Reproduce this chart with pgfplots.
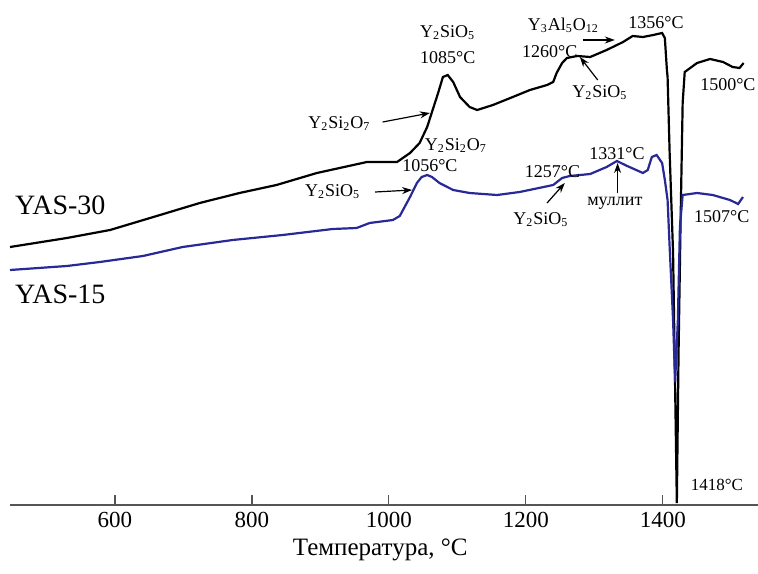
\documentclass[border=0pt]{standalone}
\usepackage{fontspec}
\setmainfont{Liberation Serif}
\usepackage{pgfplots}
\pgfplotsset{compat=1.18}
\usetikzlibrary{arrows.meta}
\definecolor{dscblue}{RGB}{40,40,150}
\definecolor{axgray}{RGB}{85,85,85}
\newcommand{\ann}{\fontsize{9}{10}\selectfont}
\begin{document}
\begin{tikzpicture}
\begin{axis}[
  scale only axis, width=374pt, height=252.5pt,
  xmin=447, xmax=1539, ymin=0, ymax=505,
  axis x line=bottom, axis y line=none,
  axis line style={axgray, line width=0.9pt, -},
  xtick={600,800,1000,1200,1400},
  tick align=inside, major tick length=5pt,
  tick style={axgray, line width=0.7pt},
  ticklabel style={font=\fontsize{11.5}{13}\selectfont},
  /pgf/number format/assume math mode=true,
  /pgf/number format/1000 sep={},
  xlabel={Температура, °C},
  xlabel style={font=\fontsize{12.5}{14}\selectfont, at={(axis description cs:0.495,0)}, anchor=center, yshift=-22.5pt},
  clip=false,
]
% YAS-30 (black)
\addplot[black, line width=1.1pt] coordinates {
(447,258) (530,267) (593,275) (666,290) (724,302) (782,312) (836,320) (895,332)
(968,343) (1012,343) (1031,352) (1045,362) (1056,378) (1064,395) (1072,412)
(1079,428) (1086,430) (1094,423) (1104,408) (1118,398) (1129,395) (1152,400)
(1181,408) (1206,415) (1231,420) (1240,423) (1245,432) (1253,442) (1260,447)
(1275,449) (1294,448) (1318,455) (1342,463) (1356,469) (1371,468) (1386,470)
(1399,472) (1403,467) (1406,435) (1407,428) (1410,352) (1415,252) (1418,118)
(1420.5,2) (1423,152) (1426,285) (1429,402) (1432,433) (1450,442) (1469,446)
(1488,443) (1502,438) (1512,437) (1518,442)
};
% YAS-15 (blue)
\addplot[dscblue, line width=1.1pt] coordinates {
(447,235) (530,239) (578,243) (641,249) (699,258) (772,265) (845,270) (918,276)
(953,277) (972,282) (1006,285) (1016,289) (1031,308) (1041,322) (1048,328)
(1056,330) (1063,328) (1074,322) (1094,315) (1118,312) (1158,310) (1191,313)
(1240,320) (1253,327) (1264,329) (1294,331) (1318,338) (1333,344) (1348,339)
(1371,332) (1378,335) (1384,348) (1391,350) (1399,342) (1403,325) (1407,305)
(1410,258) (1415,185) (1418,123) (1422,185) (1425,278) (1429,310) (1450,312)
(1473,310) (1498,305) (1510,301) (1517,308)
};
% series labels
\node[anchor=west, font=\fontsize{14}{16}\selectfont, inner sep=0pt] at (axis cs:454,300) {YAS-30};
\node[anchor=west, font=\fontsize{14}{16}\selectfont, inner sep=0pt] at (axis cs:454,211) {YAS-15};
% annotations YAS-30
\node[font=\ann, inner sep=0pt] at (axis cs:1086,472) {Y\textsubscript{2}SiO\textsubscript{5}};
\node[font=\ann, inner sep=0pt] at (axis cs:1086,447) {1085°C};
\node[font=\ann, inner sep=0pt] at (axis cs:928,381) {Y\textsubscript{2}Si\textsubscript{2}O\textsubscript{7}};
\draw[-{Stealth[length=5pt,width=3.5pt]}, line width=0.6pt] (axis cs:991,383) -- (axis cs:1060,392);
\node[font=\ann, inner sep=0pt] at (axis cs:1255,480) {Y\textsubscript{3}Al\textsubscript{5}O\textsubscript{12}};
\draw[-{Stealth[length=5pt,width=3.5pt]}, line width=0.6pt] (axis cs:1283,465) -- (axis cs:1330,465);
\node[font=\ann, inner sep=0pt] at (axis cs:1390,482) {1356°C};
\node[font=\ann, inner sep=0pt] at (axis cs:1235,453) {1260°C};
\draw[-{Stealth[length=5pt,width=3.5pt]}, line width=0.6pt] (axis cs:1305,425) -- (axis cs:1279,448);
\node[font=\ann, inner sep=0pt] at (axis cs:1308,412) {Y\textsubscript{2}SiO\textsubscript{5}};
\node[font=\ann, inner sep=0pt] at (axis cs:1495,420) {1500°C};
% annotations YAS-15
\node[font=\ann, inner sep=0pt] at (axis cs:1098,359) {Y\textsubscript{2}Si\textsubscript{2}O\textsubscript{7}};
\node[font=\ann, inner sep=0pt] at (axis cs:1060,339) {1056°C};
\node[font=\ann, inner sep=0pt] at (axis cs:918,313) {Y\textsubscript{2}SiO\textsubscript{5}};
\draw[-{Stealth[length=5pt,width=3.5pt]}, line width=0.6pt] (axis cs:980,313) -- (axis cs:1034,315);
\node[font=\ann, inner sep=0pt] at (axis cs:1333,351) {1331°C};
\draw[-{Stealth[length=5pt,width=3.5pt]}, line width=0.6pt] (axis cs:1334,312) -- (axis cs:1334,342);
\node[font=\ann, inner sep=0pt] at (axis cs:1330,302) {муллит};
\node[font=\ann, inner sep=0pt] at (axis cs:1239,333) {1257°C};
\draw[-{Stealth[length=5pt,width=3.5pt]}, line width=0.6pt] (axis cs:1231,302) -- (axis cs:1257,322);
\node[font=\ann, inner sep=0pt] at (axis cs:1222,285) {Y\textsubscript{2}SiO\textsubscript{5}};
\node[font=\ann, inner sep=0pt] at (axis cs:1486,288) {1507°C};
\node[font=\fontsize{8.5}{10}\selectfont, inner sep=0pt] at (axis cs:1479,20) {1418°C};
\coordinate (bbsw) at (rel axis cs:-0.01337,-0.13465);
\coordinate (bbne) at (rel axis cs:1,1);
\end{axis}
\pgfresetboundingbox
\path[use as bounding box] (bbsw) rectangle (bbne);
\end{tikzpicture}
\end{document}
